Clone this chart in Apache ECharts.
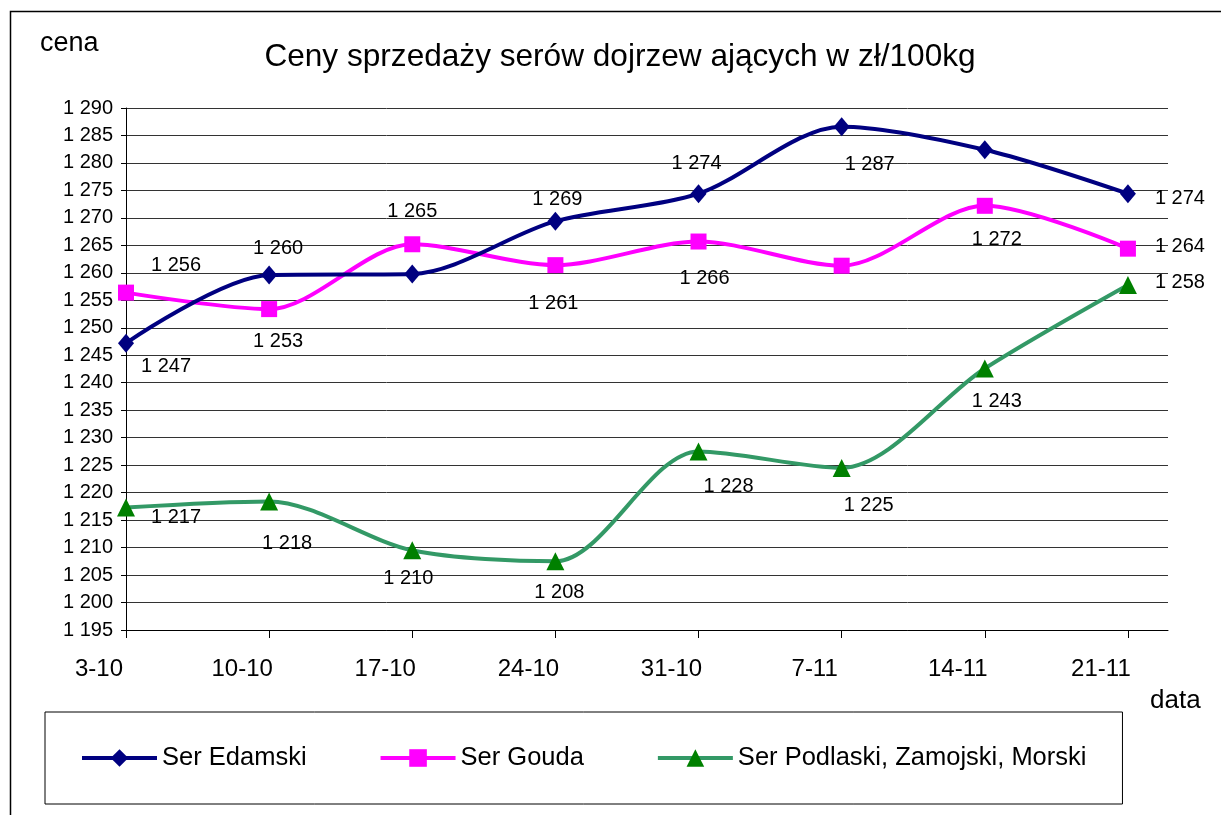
<!DOCTYPE html>
<html>
<head>
<meta charset="utf-8">
<script src="https://cdn.jsdelivr.net/npm/echarts@6/dist/echarts.min.js"></script>
<style>
html,body{margin:0;padding:0;background:#fff;}
#chart{width:1221px;height:815px;}
</style>
</head>
<body>
<div id="chart"></div>
<script>
// ---- data ----
const categories = ['3-10', '10-10', '17-10', '24-10', '31-10', '7-11', '14-11', '21-11'];
const seriesNames = ['Ser Edamski', 'Ser Gouda', 'Ser Podlaski, Zamojski, Morski'];
const edamski = [1247.2, 1259.6, 1259.8, 1269.4, 1274.4, 1286.6, 1282.4, 1274.4];
const gouda = [1256.4, 1253.4, 1265.2, 1261.4, 1265.7, 1261.3, 1272.2, 1264.4];
const podlaski = [1217.3, 1218.4, 1209.5, 1207.5, 1227.5, 1224.5, 1242.6, 1257.8];
const yMin = 1195, yMax = 1290, yStep = 5;
const titleText = 'Ceny sprzedaży serów dojrzew ających w zł/100kg';
const yName = 'cena';
const xName = 'data';

// ---- label placement (style, not data) ----
const edamOff = [[40, 23], [9, -27], null, [2, -22], [-2, -30], [28, 38], null, [52, 5]];
const goudaOff = [[50, -27], [9, 32], [0, -33], [-2, 38], [6, 37], null, [12, 34], [52, -2]];
const podOff = [[50, 10], [18, 42], [-4, 28], [4, 31], [30, 35], [27, 38], [12, 33], [52, -2]];

const FONT = '"Liberation Sans", Arial, sans-serif';

function fmt(v) {
  const r = Math.round(v);
  const th = Math.floor(r / 1000);
  const rest = String(r % 1000).padStart(3, '0');
  return th > 0 ? th + ' ' + rest : String(r);
}

function build(vals, offs) {
  return vals.map((v, i) => ({
    value: [i, v],
    label: offs[i] ? { show: true, offset: offs[i] } : { show: false }
  }));
}

const labelStyle = {
  position: 'inside',
  color: '#000',
  fontSize: 20,
  fontFamily: FONT,
  formatter: p => fmt(p.value[1])
};

const chart = echarts.init(document.getElementById('chart'), null, { renderer: 'canvas' });
const idx = categories.map((c, i) => i);

chart.setOption({
  animation: false,
  backgroundColor: '#fff',
  graphic: [{
    type: 'rect', left: 8, top: 9, z: -1,
    shape: { width: 1240, height: 900 },
    style: { fill: 'none', stroke: '#000', lineWidth: 1.5 }
  }],
  title: [
    { text: titleText, left: 615, textAlign: 'center', top: 36,
      textStyle: { fontSize: 31.6, fontWeight: 'normal', color: '#000', fontFamily: FONT } },
    { text: yName, left: 35, top: 25,
      textStyle: { fontSize: 27, fontWeight: 'normal', color: '#000', fontFamily: FONT } },
    { text: xName, left: 1145, top: 683,
      textStyle: { fontSize: 26, fontWeight: 'normal', color: '#000', fontFamily: FONT } }
  ],
  legend: {
    left: 45, top: 712,
    padding: [33, 36, 33, 35],
    borderColor: '#000', borderWidth: 1,
    itemWidth: 75, itemHeight: 22, itemGap: 72,
    lineStyle: { width: 4 },
    textStyle: { fontSize: 25.5, color: '#000', fontFamily: FONT },
    data: seriesNames
  },
  grid: { left: 126, right: 53, top: 108, bottom: 185, containLabel: false },
  xAxis: {
    type: 'value', min: 0, max: 7.28, interval: 1,
    axisLine: { show: true, lineStyle: { color: '#000', width: 1 } },
    axisTick: { show: true, length: 8, customValues: idx, lineStyle: { color: '#000' } },
    splitLine: { show: false },
    axisLabel: {
      customValues: idx,
      formatter: v => categories[Math.round(v)] || '',
      fontSize: 24, color: '#000', fontFamily: FONT,
      margin: 27, padding: [0, 54, 0, 0]
    }
  },
  yAxis: {
    type: 'value', min: yMin, max: yMax, interval: yStep,
    axisLine: { show: true, lineStyle: { color: '#000', width: 1 } },
    axisTick: { show: true, length: 5, lineStyle: { color: '#000' } },
    splitLine: { show: true, lineStyle: { color: '#333', width: 1 } },
    axisLabel: { formatter: v => fmt(v), fontSize: 20, color: '#000', fontFamily: FONT, margin: 13 }
  },
  series: [
    {
      name: seriesNames[0], type: 'line', smooth: 0.3, smoothMonotone: 'none',
      data: build(edamski, edamOff),
      symbol: 'diamond', symbolSize: [16, 19],
      lineStyle: { color: '#000080', width: 4 },
      itemStyle: { color: '#000080' },
      label: labelStyle, z: 3
    },
    {
      name: seriesNames[1], type: 'line', smooth: 0.3, smoothMonotone: 'none',
      data: build(gouda, goudaOff),
      symbol: 'rect', symbolSize: 16,
      lineStyle: { color: '#FF00FF', width: 4 },
      itemStyle: { color: '#FF00FF' },
      label: labelStyle, z: 2
    },
    {
      name: seriesNames[2], type: 'line', smooth: 0.3, smoothMonotone: 'none',
      data: build(podlaski, podOff),
      symbol: 'triangle', symbolSize: 18,
      lineStyle: { color: '#339966', width: 4 },
      itemStyle: { color: '#008000' },
      label: labelStyle, z: 2
    }
  ]
});
</script>
</body>
</html>
